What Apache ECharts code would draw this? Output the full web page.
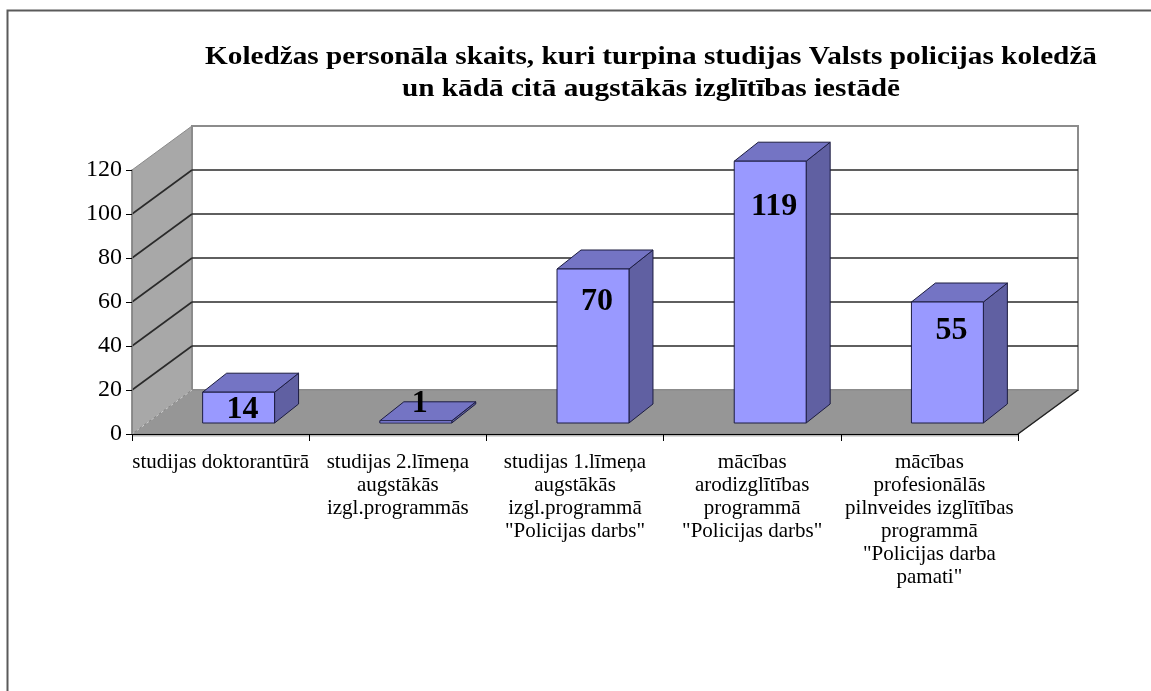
<!DOCTYPE html>
<html>
<head>
<meta charset="utf-8">
<script src="https://cdn.jsdelivr.net/npm/echarts@6/dist/echarts.min.js"></script>
<style>html,body{margin:0;padding:0;background:#fff}#c{width:1151px;height:691px}</style>
</head>
<body>
<div id="c"></div>
<script>
const titleText = 'Koledžas personāla skaits, kuri turpina studijas Valsts policijas koledžā\nun kādā citā augstākās izglītības iestādē';
const categories = [
  'studijas doktorantūrā',
  'studijas 2.līmeņa\naugstākās\nizgl.programmās',
  'studijas 1.līmeņa\naugstākās\nizgl.programmā\n"Policijas darbs"',
  'mācības\narodizglītības\nprogrammā\n"Policijas darbs"',
  'mācības\nprofesionālās\npilnveides izglītības\nprogrammā\n"Policijas darba\npamati"'
];
const values = [14, 1, 70, 119, 55];
const yTicks = [0, 20, 40, 60, 80, 100, 120];

const FONT = '"Liberation Serif", "Times New Roman", serif';
const DX = 60, DY = -44;      // wall depth
const BX = 18, BY = -11;      // bar front offset
const PX = 24, PY = -19;      // bar depth
const NCAT = categories.length;
const YMAX = yTicks[yTicks.length - 1];

function boxItem(params, api) {
  const v = api.value(1);
  const bw = api.size([1, 0])[0];
  const pl = api.coord([0, v]);
  const xl = pl[0] - bw / 2, y = pl[1];
  const xr = api.coord([NCAT - 1, v])[0] + bw / 2;
  const y0 = api.coord([0, 0])[1];
  const yT = api.coord([0, YMAX])[1];
  const ch = [];
  if (params.dataIndex === 0) {
    ch.push({type: 'polygon', shape: {points: [[xl, y0], [xl, yT], [xl + DX, yT + DY], [xl + DX, y0 + DY]]},
      style: {fill: '#a8a8a8', stroke: '#8a8a8a', lineWidth: 1}});
    ch.push({type: 'rect', shape: {x: xl + DX, y: yT + DY, width: xr - xl, height: y0 - yT}, style: {fill: '#ffffff', stroke: '#8c8c8c', lineWidth: 2}});
    ch.push({type: 'polygon', shape: {points: [[xl, y0], [xr, y0], [xr + DX, y0 + DY], [xl + DX, y0 + DY]]},
      style: {fill: '#969696', stroke: '#8a8a8a', lineWidth: 1}});
    ch.push({type: 'line', shape: {x1: xl, y1: y0 + 1.5, x2: xr, y2: y0 + 1.5}, style: {stroke: '#b8b8b8', lineWidth: 2}});
    ch.push({type: 'line', shape: {x1: xr, y1: y0, x2: xr + DX, y2: y0 + DY}, style: {stroke: '#222', lineWidth: 1.5}});
    ch.push({type: 'line', shape: {x1: xl, y1: y0, x2: xl + DX, y2: y0 + DY}, style: {stroke: '#d0d0d0', lineWidth: 1, lineDash: [3, 3]}});
  }
  if (v > 0 && v < YMAX) {
    ch.push({type: 'line', shape: {x1: xl, y1: y, x2: xl + DX, y2: y + DY}, style: {stroke: '#2a2a2a', lineWidth: 1.6}});
    ch.push({type: 'line', shape: {x1: xl + DX, y1: y + DY, x2: xr + DX, y2: y + DY}, style: {stroke: '#2a2a2a', lineWidth: 1.6}});
  }
  return {type: 'group', children: ch};
}

function barItem(params, api) {
  const i = api.value(0), v = api.value(1);
  const c = api.coord([i, v]), b = api.coord([i, 0]);
  const bw = api.size([1, 0])[0];
  const w = bw * 0.406;
  const x1 = c[0] - w / 2 + BX, x2 = x1 + w;
  const yt = c[1] + BY, yb = b[1] + BY;
  const h = yb - yt;
  const st = '#1c1c40';
  const ch = [
    {type: 'polygon', shape: {points: [[x2, yt], [x2, yb], [x2 + PX, yb + PY], [x2 + PX, yt + PY]]}, style: {fill: '#6060a2', stroke: st, lineWidth: 1}},
    {type: 'polygon', shape: {points: [[x1, yt], [x2, yt], [x2 + PX, yt + PY], [x1 + PX, yt + PY]]}, style: {fill: '#7474c4', stroke: st, lineWidth: 1}},
    {type: 'rect', shape: {x: x1, y: yt, width: w, height: h}, style: {fill: '#9999ff', stroke: st, lineWidth: 1}}
  ];
  const ly = h >= 20 ? yt + 14 + 0.12 * h : yt + PY + 2;
  ch.push({type: 'text', style: {text: String(v), x: (x1 + x2) / 2 + 4, y: ly, fill: '#000',
    font: 'bold 32px ' + FONT, align: 'center', verticalAlign: 'middle'}});
  return {type: 'group', children: ch};
}

const chart = echarts.init(document.getElementById('c'), null, {renderer: 'canvas'});
chart.setOption({
  animation: false,
  backgroundColor: '#ffffff',
  grid: {left: 132, right: 133, top: 170, bottom: 257, containLabel: false},
  xAxis: {
    type: 'category', data: categories, boundaryGap: true, z: 10,
    axisLine: {show: true, lineStyle: {color: '#000', width: 1}},
    axisTick: {show: true, length: 7, alignWithLabel: false, lineStyle: {color: '#000'}},
    axisLabel: {interval: 0, margin: 17, color: '#000', fontFamily: FONT, fontSize: 21, lineHeight: 23, align: 'center'},
    splitLine: {show: false}
  },
  yAxis: {
    type: 'value', min: 0, max: YMAX, interval: 20, z: 10,
    axisLine: {show: true, lineStyle: {color: '#808080', width: 1.5}},
    axisTick: {show: true, length: 6, lineStyle: {color: '#000'}},
    axisLabel: {margin: 10, color: '#000', fontFamily: FONT, fontSize: 24},
    splitLine: {show: false}
  },
  graphic: [
    {type: 'rect', z: 100, shape: {x: 7.5, y: 10.5, width: 1300, height: 900}, style: {fill: 'none', stroke: '#5a5a5a', lineWidth: 2}},
    {type: 'text', z: 100, x: 651, y: 42, scaleX: 1.17, style: {text: titleText, fill: '#000', font: 'bold 25px ' + FONT,
      align: 'center', verticalAlign: 'top', lineHeight: 32}}
  ],
  series: [
    {type: 'custom', z: 1, silent: true, data: yTicks.map(v => [0, v]), renderItem: boxItem, clip: false},
    {type: 'custom', z: 5, silent: true, data: values.map((v, i) => [i, v]), renderItem: barItem, clip: false}
  ]
});
</script>
</body>
</html>
